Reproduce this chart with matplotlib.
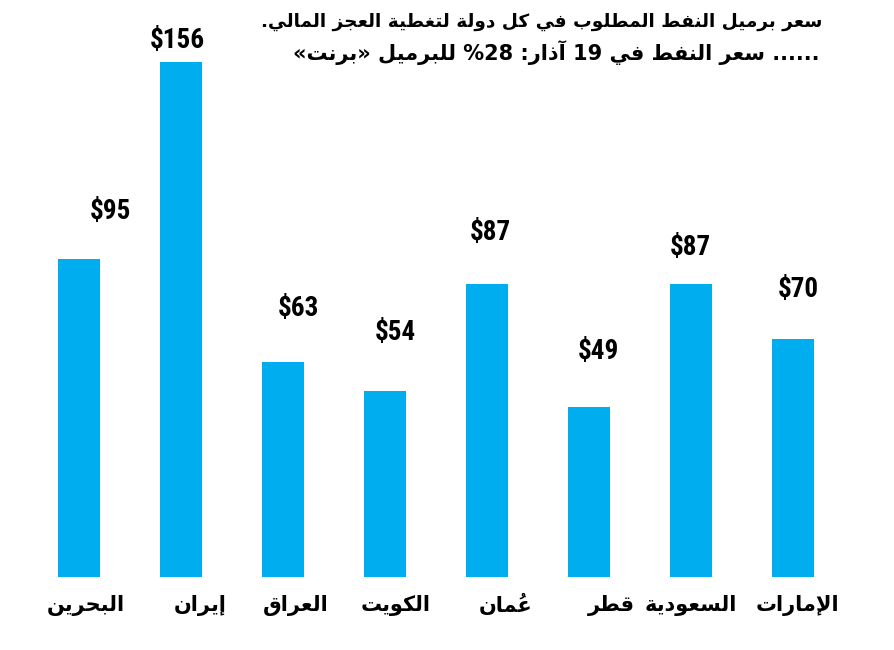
import re
import numpy as np
import matplotlib
matplotlib.use("Agg")
import matplotlib.pyplot as plt

# data
countries = ["البحرين", "إيران", "العراق", "الكويت", "عُمان", "قطر", "السعودية", "الإمارات"]
prices = [95, 156, 63, 54, 87, 49, 87, 70]
title1 = "سعر برميل النفط المطلوب في كل دولة لتغطية العجز المالي."
title2 = "...... سعر النفط في 19 آذار: 28% للبرميل «برنت»"

# label nudges in pixels (dx, dy above bar top)
label_dx = [31, -4, 15, 10, 3, 9, -1, 5]
label_dy = [47, 21, 53, 58, 52, 55, 37, 50]

# --- tiny arabic shaping, matplotlib has no bidi / joining
DUAL = {'ب': 0xFE8F, 'ت': 0xFE95, 'ث': 0xFE99, 'ج': 0xFE9D, 'ح': 0xFEA1, 'خ': 0xFEA5,
        'س': 0xFEB1, 'ش': 0xFEB5, 'ص': 0xFEB9, 'ض': 0xFEBD, 'ط': 0xFEC1, 'ظ': 0xFEC5,
        'ع': 0xFEC9, 'غ': 0xFECD, 'ف': 0xFED1, 'ق': 0xFED5, 'ك': 0xFED9, 'ل': 0xFEDD,
        'م': 0xFEE1, 'ن': 0xFEE5, 'ه': 0xFEE9, 'ي': 0xFEF1, 'ئ': 0xFE89}
RIGHT = {'آ': 0xFE81, 'أ': 0xFE83, 'ؤ': 0xFE85, 'إ': 0xFE87, 'ا': 0xFE8D, 'ة': 0xFE93,
         'د': 0xFEA9, 'ذ': 0xFEAB, 'ر': 0xFEAD, 'ز': 0xFEAF, 'و': 0xFEED, 'ى': 0xFEEF}
LAMALEF = {'آ': 0xFEF5, 'أ': 0xFEF7, 'إ': 0xFEF9, 'ا': 0xFEFB}
MARKS = '\u064B\u064C\u064D\u064E\u064F\u0650\u0651\u0652'
MIRROR = {'«': '»', '»': '«', '(': ')', ')': '('}


def shape(word):
    units = []
    i = 0
    while i < len(word):
        c = word[i]
        if c in MARKS and units:
            units[-1][3] += c
        elif c == 'ل' and i + 1 < len(word) and word[i + 1] in LAMALEF:
            units.append([LAMALEF[word[i + 1]], 'R', c, ''])
            i += 1
        elif c in DUAL:
            units.append([DUAL[c], 'D', c, ''])
        elif c in RIGHT:
            units.append([RIGHT[c], 'R', c, ''])
        else:
            units.append([None, 'U', c, ''])
        i += 1
    glyphs = []
    for k, (base, jt, c, marks) in enumerate(units):
        if base is None:
            glyphs.append(marks + c)
            continue
        jp = k > 0 and units[k - 1][1] == 'D'
        jn = jt == 'D' and k + 1 < len(units) and units[k + 1][1] in 'DR'
        off = 3 if (jp and jn) else 1 if jp else 2 if jn else 0
        # mark goes first so it lands on top of its letter once reversed
        glyphs.append(marks + chr(base + off))
    return glyphs


def visual(text):
    out = []
    for tok in text.split(' '):
        runs = re.findall(r'[0-9]+|[^0-9]+', tok)
        vis = []
        for r in runs:
            if r.isdigit():
                vis.append(r)
            else:
                vis.append(''.join(MIRROR.get(g, g) for g in reversed(shape(r))))
        out.append(''.join(reversed(vis)))
    return ' '.join(reversed(out))


W, H = 895, 650
px_per_unit = 3.225
zero_px = 85      # zero line, pixels from bottom
bar_base = -3.7   # bars start a little below zero

fig = plt.figure(figsize=(W / 100, H / 100), dpi=100)
ax = fig.add_axes([0, 0, 1, 1])
ax.set_xlim(-0.775, 8.0)
ax.set_ylim(-zero_px / px_per_unit, (H - zero_px) / px_per_unit)
ax.axis('off')

x = np.arange(len(countries))
vals = np.array(prices, dtype=float)
ax.bar(x, vals - bar_base, bottom=bar_base, width=0.41, color='#00AEEF')

num_font = ['Roboto Condensed', 'Roboto', 'DejaVu Sans']
for i, v in enumerate(prices):
    ax.annotate('$' + str(v), (x[i], v), xytext=(label_dx[i], label_dy[i]),
                textcoords='offset pixels', ha='center', va='center',
                fontsize=19.5, fontweight='black', family=num_font)

for i, name in enumerate(countries):
    ax.text(x[i] + 0.45, 45 / H, visual(name), transform=ax.get_xaxis_transform(),
            ha='right', va='center', fontsize=15, fontweight='bold', family='DejaVu Sans')

fig.text(822 / W, 1 - 22 / H, visual(title1), ha='right', va='center',
         fontsize=13.3, fontweight='bold', family='DejaVu Sans')
fig.text(820 / W, 1 - 53 / H, visual(title2), ha='right', va='center',
         fontsize=15, fontweight='bold', family='DejaVu Sans')

fig.savefig('out.png', dpi=100)
